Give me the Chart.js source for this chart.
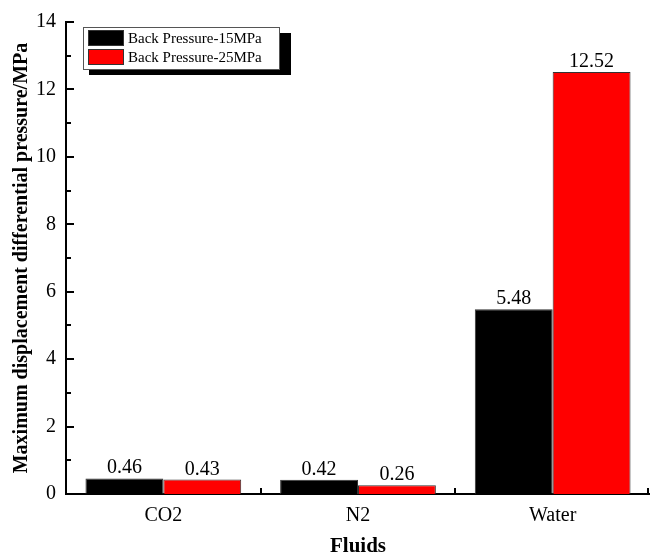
<!DOCTYPE html>
<html>
<head>
<meta charset="utf-8">
<script src="https://cdn.jsdelivr.net/npm/chart.js@4/dist/chart.umd.min.js"></script>
<style>
  html, body { margin: 0; padding: 0; background: #fff; }
  #wrap { width: 650px; height: 559px; }
</style>
</head>
<body>
<div id="wrap"><canvas id="chart" width="650" height="559"></canvas></div>
<script>
// data
const fluids = ["CO2", "N2", "Water"];
const seriesNames = ["Back Pressure-15MPa", "Back Pressure-25MPa"];
const bp15 = [0.46, 0.42, 5.48];
const bp25 = [0.43, 0.26, 12.52];
const yTicks = [0, 2, 4, 6, 8, 10, 12, 14];
const seriesColors = ["#000000", "#ff0000"];

const serif = "'Liberation Serif', 'Times New Roman', serif";

// inward major/minor ticks, like the original Origin plot
const tickMarks = {
    id: "tickMarks",
    afterDraw(chart) {
        const { ctx, scales: { x, y } } = chart;
        ctx.save();
        ctx.strokeStyle = "#000";
        ctx.lineWidth = 2;
        const left = x.left;
        for (let v = yTicks[0]; v <= yTicks[yTicks.length - 1]; v++) {
            const py = Math.round(y.getPixelForValue(v));
            const len = yTicks.includes(v) ? 8 : 5;
            ctx.beginPath();
            ctx.moveTo(left, py);
            ctx.lineTo(left + len, py);
            ctx.stroke();
        }
        const bottom = y.bottom;
        for (let i = 0; i < fluids.length; i++) {
            const px = i < fluids.length - 1
                ? (x.getPixelForValue(i) + x.getPixelForValue(i + 1)) / 2
                : x.right - 2;
            ctx.beginPath();
            ctx.moveTo(Math.round(px), bottom);
            ctx.lineTo(Math.round(px), bottom - 6);
            ctx.stroke();
        }
        ctx.restore();
    },
};

// value labels above each bar
const barLabels = {
    id: "barLabels",
    afterDatasetsDraw(chart) {
        const { ctx } = chart;
        ctx.save();
        ctx.font = "20px " + serif;
        ctx.fillStyle = "#000";
        ctx.textAlign = "center";
        ctx.textBaseline = "alphabetic";
        chart.data.datasets.forEach((ds, di) => {
            chart.getDatasetMeta(di).data.forEach((bar, i) => {
                ctx.fillText(ds.data[i].toFixed(2), bar.x, bar.y - 5);
            });
        });
        ctx.restore();
    },
};

// boxed legend with drop shadow
const boxLegend = {
    id: "boxLegend",
    afterDraw(chart) {
        const { ctx } = chart;
        const bx = 83, by = 27, bw = 196, bh = 42;
        ctx.save();
        ctx.fillStyle = "#000";
        ctx.fillRect(bx + 6, by + 6, bw + 6, bh);
        ctx.fillStyle = "#fff";
        ctx.fillRect(bx, by, bw, bh);
        ctx.strokeStyle = "#555";
        ctx.lineWidth = 1;
        ctx.strokeRect(bx + 0.5, by + 0.5, bw, bh);
        ctx.font = "15px " + serif;
        ctx.textBaseline = "middle";
        seriesNames.forEach((name, i) => {
            const ry = by + 3 + i * 19;
            ctx.fillStyle = seriesColors[i];
            ctx.fillRect(bx + 5, ry, 36, 16);
            ctx.strokeStyle = "#333";
            ctx.strokeRect(bx + 5.5, ry + 0.5, 35, 15);
            ctx.fillStyle = "#000";
            ctx.fillText(name, bx + 45, ry + 9);
        });
        ctx.restore();
    },
};

new Chart(document.getElementById("chart"), {
    type: "bar",
    data: {
        labels: fluids,
        datasets: [
            { label: seriesNames[0], data: bp15, backgroundColor: seriesColors[0], borderColor: "#333", borderWidth: 1 },
            { label: seriesNames[1], data: bp25, backgroundColor: seriesColors[1], borderColor: "#333", borderWidth: 1 },
        ],
    },
    options: {
        responsive: false,
        animation: false,
        maintainAspectRatio: false,
        layout: { padding: { top: 22, right: 0, left: 0, bottom: 0 } },
        datasets: { bar: { categoryPercentage: 0.8, barPercentage: 1.0 } },
        plugins: { legend: { display: false }, tooltip: { enabled: false } },
        scales: {
            x: {
                grid: { display: false, drawTicks: false },
                border: { display: true, color: "#000", width: 2 },
                ticks: { color: "#000", font: { family: serif, size: 20 }, padding: 10 },
                title: { display: true, text: "Fluids", color: "#000", font: { family: serif, size: 21, weight: "bold" }, padding: { top: 0, bottom: 0 } },
                afterFit: (s) => { s.height = 65; },
            },
            y: {
                min: 0,
                max: 14,
                grid: { display: false, drawTicks: false },
                border: { display: true, color: "#000", width: 2 },
                ticks: { stepSize: 2, color: "#000", font: { family: serif, size: 20 }, padding: 10 },
                title: { display: true, text: "Maximum displacement differential pressure/MPa", color: "#000", font: { family: serif, size: 20, weight: "bold" }, padding: { top: 10, bottom: 0 } },
                afterFit: (s) => { s.width = 66; },
            },
        },
    },
    plugins: [tickMarks, barLabels, boxLegend],
});
</script>
</body>
</html>
